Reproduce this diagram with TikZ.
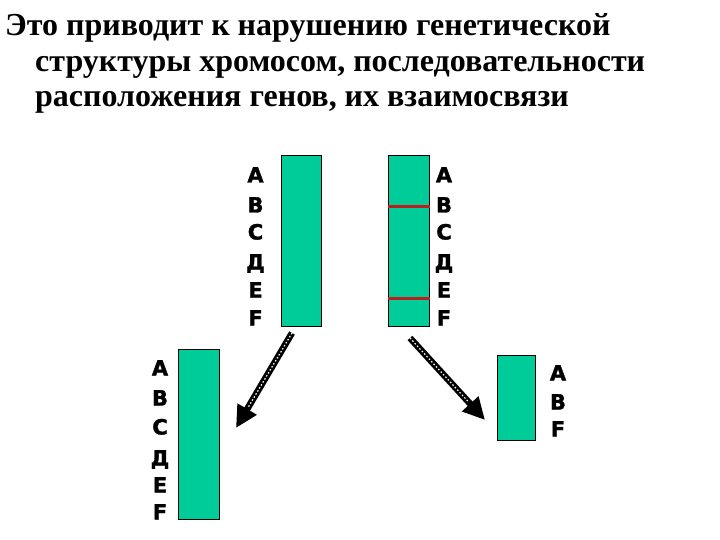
\documentclass[tikz,border=0pt]{standalone}
\usepackage{fontspec}
\setmainfont{Liberation Serif}
\newfontfamily\lettfont[BoldFeatures={FakeBold=1.5}]{DejaVu Sans}
\usetikzlibrary{arrows.meta,calc}
\definecolor{chromo}{RGB}{0,204,153}
\definecolor{breakred}{RGB}{190,30,30}
\tikzset{
  title/.style={anchor=base west, inner sep=0pt, font=\fontsize{32}{35}\selectfont\bfseries},
  chrom/.style={draw=black, line width=1pt, fill=chromo, inner sep=0pt},
  lett/.style={inner sep=0pt, anchor=base, font=\fontsize{21}{21}\selectfont\lettfont\bfseries},
  bigarrow/.style={line width=6.5pt, -{Triangle[length=22pt,width=21pt]}},
  hatch/.style={white, line width=1.2pt, dash pattern=on 1.5pt off 2pt},
  brk/.style={breakred, line width=3pt}
}
\begin{document}
\begin{tikzpicture}[x=1pt,y=-1pt]
\useasboundingbox (0,0) rectangle (720,540);
\node[title] (t1) at (5,36) {Это приводит к нарушению генетической};
\node[title] (t2) at (35,72) {структуры хромосом, последовательности};
\node[title] (t3) at (35,107) {расположения генов, их взаимосвязи};
% chromosomes
\node[chrom, minimum width=40pt, minimum height=170pt] (c1) at (301,241) {};
\node[chrom, minimum width=41pt, minimum height=170pt] (c2) at (408.5,241) {};
\node[chrom, minimum width=41pt, minimum height=170pt] (c3) at (198.5,434) {};
\node[chrom, minimum width=38pt, minimum height=85pt] (c4) at (516,397.5) {};
% breaks
\draw[brk] (c2.west |- 0,207) -- (c2.east |- 0,207);
\draw[brk] (c2.west |- 0,298) -- (c2.east |- 0,298);
% letters
\foreach \t/\y/\n in {A/182.5/a, B/212.5/b, C/239.5/c, Д/269.5/d, E/297.5/e, F/325.5/f}
  \node[lett] (l1\n) at (255.5,\y) {\t};
\foreach \t/\y/\n in {A/182.5/a, B/212.5/b, C/239.5/c, Д/269.5/d, E/297.5/e, F/325.5/f}
  \node[lett] (l2\n) at (444,\y) {\t};
\foreach \t/\y/\n in {A/375.5/a, B/405.5/b, C/434.5/c, Д/465.5/d, E/492.5/e, F/519.5/f}
  \node[lett] (l3\n) at (160,\y) {\t};
\foreach \t/\y/\n in {A/380.5/a, B/409.5/b, F/436.5/f}
  \node[lett] (l4\n) at (558,\y) {\t};
% arrows
\coordinate (s1) at (292,333);
\coordinate (e1) at (236,428);
\coordinate (s2) at (410,338);
\coordinate (e2) at (485,420);
\draw[bigarrow] (s1) -- (e1);
\draw[hatch] (s1) -- ($(s1)!0.78!(e1)$);
\draw[bigarrow] (s2) -- (e2);
\draw[hatch] (s2) -- ($(s2)!0.78!(e2)$);
\end{tikzpicture}
\end{document}
